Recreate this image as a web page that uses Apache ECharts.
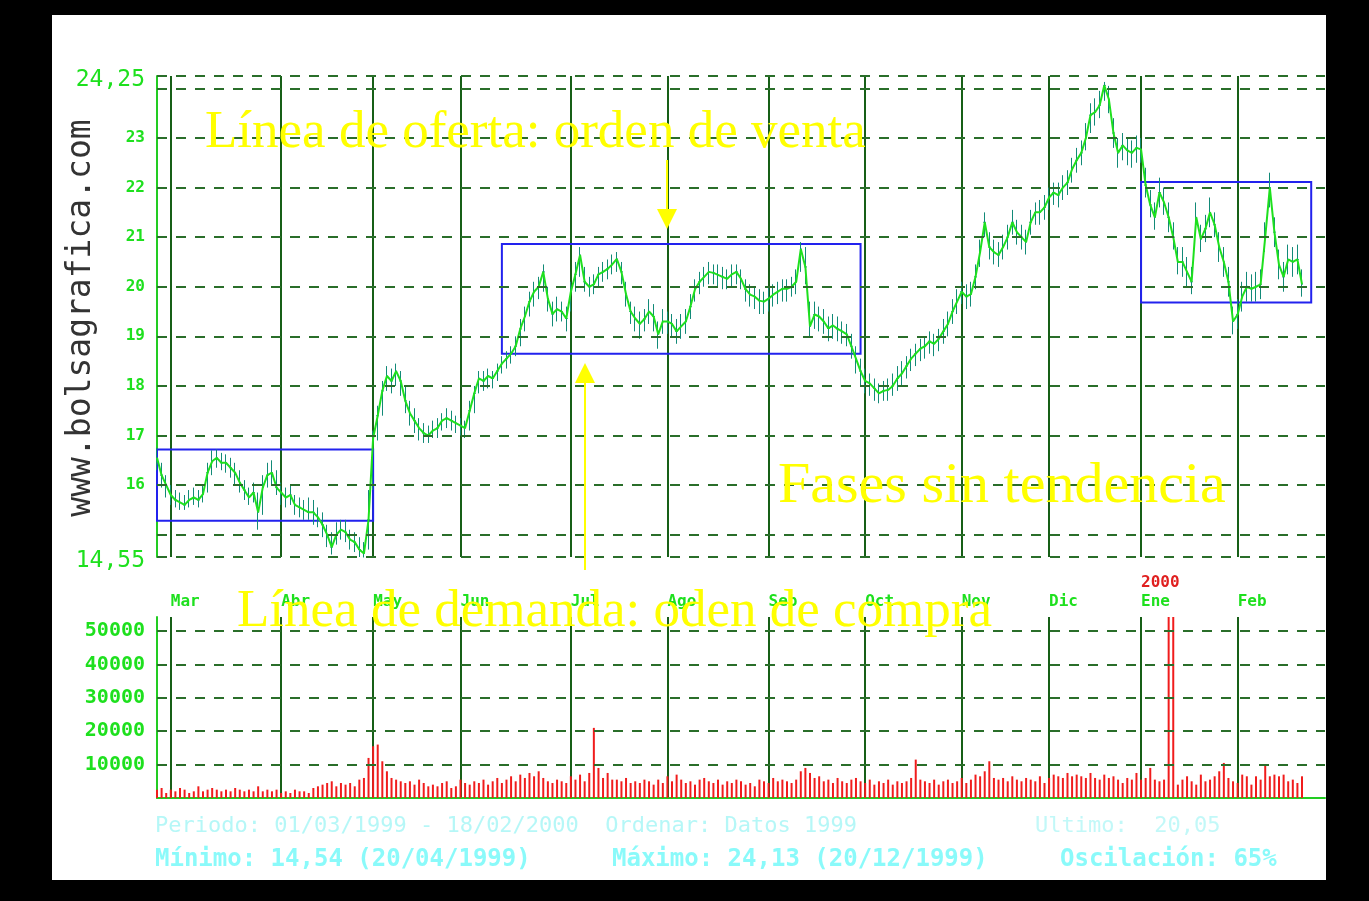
<!DOCTYPE html>
<html>
<head>
<meta charset="utf-8">
<script src="https://cdn.jsdelivr.net/npm/echarts@6/dist/echarts.min.js"></script>
<style>
html, body { margin: 0; padding: 0; background: #000; }
#chart { width: 1369px; height: 901px; }
</style>
</head>
<body>
<div id="chart"></div>
<script>
// cierres diarios (mar 1999 - feb 2000)
const cierre = [
  16.55,16.2,16.0,15.8,15.7,15.65,15.6,15.7,15.75,15.7,
  15.82,16.25,16.48,16.55,16.45,16.45,16.35,16.25,16.05,15.9,
  15.75,15.85,15.45,15.95,16.2,16.25,15.95,15.85,15.75,15.8,
  15.6,15.55,15.5,15.45,15.45,15.35,15.2,15.0,14.75,15.0,
  15.1,15.05,14.9,14.85,14.7,14.62,15.3,16.95,17.4,17.9,
  18.2,18.1,18.3,18.1,17.7,17.45,17.3,17.15,17.05,17.0,
  17.1,17.15,17.3,17.35,17.3,17.25,17.2,17.15,17.5,17.85,
  18.15,18.1,18.2,18.15,18.3,18.45,18.55,18.65,18.8,19.15,
  19.4,19.7,19.9,20.0,20.3,19.76,19.45,19.55,19.5,19.36,
  19.9,20.25,20.64,20.1,20.0,20.05,20.25,20.3,20.36,20.45,
  20.56,20.3,19.85,19.5,19.36,19.25,19.35,19.5,19.4,19.04,
  19.3,19.3,19.25,19.1,19.2,19.3,19.6,19.95,20.1,20.2,
  20.3,20.28,20.24,20.2,20.16,20.25,20.3,20.16,19.95,19.84,
  19.8,19.72,19.7,19.76,19.84,19.9,19.96,19.96,20.0,20.1,
  20.76,20.4,19.2,19.44,19.4,19.3,19.16,19.22,19.15,19.1,
  19.04,18.8,18.55,18.3,18.1,18.05,17.95,17.85,17.9,17.92,
  18.0,18.15,18.25,18.4,18.55,18.65,18.75,18.8,18.9,18.85,
  18.95,19.1,19.25,19.5,19.7,19.9,19.8,19.85,20.2,20.7,
  21.3,20.8,20.7,20.64,20.8,21.0,21.3,21.1,21.0,20.9,
  21.3,21.5,21.5,21.6,21.8,21.9,21.85,22.0,22.1,22.37,
  22.55,22.7,23.0,23.46,23.52,23.66,24.06,23.78,23.1,22.7,
  22.85,22.75,22.7,22.8,22.77,22.05,21.65,21.4,21.9,21.7,
  21.4,21.0,20.5,20.5,20.3,20.1,21.4,20.96,21.17,21.5,
  21.25,20.8,20.5,20.1,19.3,19.44,19.8,20.0,19.96,20.0,
  20.05,21.0,22.0,21.1,20.44,20.2,20.55,20.5,20.55,20.05
];
const maximo = [
  16.75,16.45,16.2,16.0,15.9,15.85,15.8,15.9,15.95,15.9,
  16.0,16.45,16.7,16.72,16.65,16.62,16.55,16.45,16.3,16.1,
  15.95,16.05,15.85,16.2,16.45,16.5,16.3,16.05,15.95,16.0,
  15.8,15.75,15.7,15.75,15.7,15.55,15.45,15.2,15.05,15.25,
  15.3,15.3,15.1,15.05,14.95,14.85,15.9,17.1,17.6,18.1,
  18.4,18.35,18.45,18.3,18.0,17.7,17.55,17.35,17.25,17.2,
  17.3,17.35,17.45,17.55,17.5,17.4,17.35,17.3,17.7,18.0,
  18.3,18.3,18.35,18.3,18.45,18.6,18.7,18.8,19.0,19.35,
  19.6,19.9,20.1,20.2,20.45,20.0,19.7,19.8,19.7,19.6,
  20.1,20.5,20.8,20.4,20.2,20.25,20.4,20.5,20.55,20.65,
  20.7,20.5,20.1,19.7,19.6,19.5,19.55,19.75,19.65,19.3,
  19.55,19.5,19.45,19.35,19.45,19.55,19.85,20.15,20.3,20.4,
  20.5,20.45,20.45,20.4,20.35,20.45,20.45,20.35,20.15,20.05,
  20.0,19.95,19.9,20.0,20.05,20.1,20.15,20.15,20.2,20.35,
  20.9,20.8,19.7,19.7,19.6,19.55,19.4,19.45,19.4,19.3,
  19.25,19.05,18.8,18.55,18.35,18.25,18.15,18.05,18.1,18.15,
  18.25,18.4,18.5,18.6,18.75,18.85,18.95,19.0,19.1,19.05,
  19.15,19.35,19.5,19.75,19.95,20.1,20.05,20.1,20.45,20.95,
  21.5,21.1,20.95,20.9,21.05,21.25,21.55,21.35,21.25,21.15,
  21.55,21.7,21.75,21.85,22.0,22.1,22.1,22.25,22.35,22.6,
  22.8,22.95,23.3,23.7,23.8,23.95,24.13,24.05,23.4,23.0,
  23.1,23.0,22.95,23.05,23.0,22.4,21.95,21.7,22.2,22.0,
  21.7,21.3,20.8,20.8,20.6,20.4,21.7,21.25,21.45,21.8,
  21.5,21.1,20.8,20.4,19.6,19.75,20.1,20.3,20.25,20.3,
  20.35,21.3,22.3,21.4,20.75,20.5,20.85,20.8,20.85,20.35
];
const minimo = [
  16.3,15.95,15.75,15.6,15.55,15.5,15.5,15.55,15.6,15.55,
  15.65,15.85,16.2,16.35,16.3,16.25,16.15,16.0,15.85,15.7,
  15.6,15.65,15.1,15.4,15.95,16.0,15.8,15.6,15.55,15.6,
  15.4,15.35,15.3,15.3,15.2,15.15,14.95,14.75,14.6,14.8,
  14.9,14.85,14.7,14.65,14.55,14.54,14.7,15.9,16.9,17.4,
  17.9,17.85,18.0,17.8,17.45,17.2,17.05,16.9,16.85,16.85,
  16.95,16.95,17.1,17.15,17.1,17.05,17.0,16.95,17.1,17.45,
  17.85,17.9,17.95,17.95,18.1,18.25,18.35,18.45,18.6,18.8,
  19.1,19.4,19.6,19.75,19.9,19.5,19.2,19.3,19.3,19.1,
  19.5,19.9,20.2,19.9,19.8,19.85,20.0,20.1,20.15,20.25,
  20.3,20.05,19.6,19.25,19.1,18.95,19.1,19.25,19.1,18.75,
  19.05,19.05,19.0,18.85,18.95,19.05,19.35,19.7,19.85,20.0,
  20.05,20.05,20.0,19.95,19.95,20.0,20.05,19.95,19.7,19.6,
  19.55,19.45,19.45,19.5,19.6,19.65,19.7,19.7,19.8,19.85,
  20.3,20.05,19.0,19.15,19.1,19.05,18.9,18.95,18.9,18.85,
  18.8,18.55,18.25,18.0,17.85,17.8,17.7,17.65,17.7,17.7,
  17.8,17.9,18.0,18.15,18.3,18.4,18.5,18.55,18.65,18.6,
  18.7,18.85,19.0,19.25,19.45,19.65,19.55,19.6,19.95,20.4,
  21.0,20.55,20.45,20.4,20.55,20.75,21.05,20.85,20.75,20.65,
  21.05,21.25,21.25,21.35,21.55,21.65,21.6,21.75,21.85,22.1,
  22.3,22.45,22.75,23.1,23.25,23.4,23.75,23.5,22.8,22.4,
  22.55,22.45,22.4,22.5,22.5,21.8,21.4,21.15,21.6,21.45,
  21.1,20.75,20.25,20.2,20.0,19.85,21.1,20.7,20.9,21.2,
  21.0,20.5,20.2,19.8,19.04,19.15,19.5,19.7,19.7,19.7,
  19.75,20.7,21.6,20.8,20.15,19.9,20.25,20.2,20.25,19.8
];
const volumen = [
  2500,3000,1500,2500,2000,3000,2500,1500,2000,3500,
  2000,2500,3000,2500,2000,2500,2000,3000,2500,2000,
  2500,2000,3500,2000,2500,2000,2500,1500,2000,1500,
  2500,2000,2000,1500,3000,3500,4000,4500,5000,3500,
  4500,4000,4500,3500,5500,6000,12000,15500,16000,11000,
  8000,6000,5500,5000,4500,5000,4000,5500,4500,3500,
  4000,3500,4500,5000,3000,3500,5500,4500,4000,5000,
  4500,5500,4000,5000,6000,4500,5500,6500,5000,7000,
  6000,7500,6500,8000,6000,5000,4500,5500,5000,4500,
  6500,5500,7000,5000,7500,21000,9000,6000,7500,5500,
  5500,5000,6000,4500,5000,4500,5500,5000,4000,5500,
  4500,6500,5000,7000,5500,4500,5000,4000,5500,6000,
  5000,4500,5500,4000,5000,4500,5500,5000,4000,4500,
  3500,5500,5000,4500,6000,5000,5500,5000,4500,5500,
  8000,9000,7500,6000,6500,5000,5500,4500,6000,5000,
  4500,5500,6000,5000,4500,5500,4000,5000,4500,5500,
  4000,5000,4500,5000,6000,11500,5500,5000,4500,5500,
  4000,5000,5500,4500,5000,6000,4500,5500,7000,6500,
  8000,11000,6000,5500,6000,5000,6500,5500,5000,6000,
  5500,5000,6500,4500,6000,7000,6500,6000,7500,6500,
  7000,6500,6000,7500,6000,5500,7000,6000,6500,5500,
  4500,6000,5500,7500,5500,6000,9000,5500,5000,5500,
  62000,62000,4000,5500,6500,5000,4000,7000,5000,5500,
  6500,8000,10500,6000,5000,4500,7000,6500,4000,6500,
  5500,10000,6500,7000,6500,7000,5000,5500,4500,6500
];
const meses = ['Mar','Abr','May','Jun','Jul','Ago','Sep','Oct','Nov','Dic','Ene','Feb'];
const inicioMes = [3,27,47,66,90,111,133,154,175,194,214,235];
const anioMes = ['','','','','','','','','','','2000',''];
const nivelesPrecio = [14.55,15,16,17,18,19,20,21,22,23,24,24.25];
const etiquetasPrecio = [14.55,16,17,18,19,20,21,22,23,24.25];
const nivelesVolumen = [10000,20000,30000,40000,50000];
// fases sin tendencia: [dia inicio, dia fin, precio alto, precio bajo]
const fases = [[0,47,16.72,15.28],[75,153,20.86,18.65],[214,251,22.11,19.68]];
const totalDias = 255;

const dias = Array.from({ length: totalDias }, (_, i) => String(i));
const velas = cierre.map((c, i) => [c, c, minimo[i], maximo[i]]);

const verde = '#1ee01e';
const mono = '"DejaVu Sans Mono", monospace';
const rejilla = { type: [10, 9], color: '#2a6e2a', width: 2 };
const lineaMes = { color: '#175f17', width: 2 };
const esMes = (i) => inicioMes.indexOf(i) >= 0;

const chart = echarts.init(document.getElementById('chart'));
chart.setOption({
  animation: false,
  backgroundColor: '#fff',
  grid: [
    { left: 157, right: 44, top: 76, height: 481 },
    { left: 157, right: 44, top: 617, height: 181 }
  ],
  xAxis: [
    {
      type: 'category', gridIndex: 0, data: dias, boundaryGap: false,
      axisLine: { show: false }, axisTick: { show: false },
      axisLabel: {
        interval: (i) => esMes(i), align: 'left', margin: 16,
        formatter: (v, i) => {
          const k = inicioMes.indexOf(i);
          return '{r|' + (anioMes[k] || ' ') + '}\n{g|' + meses[k] + '}';
        },
        rich: {
          r: { color: '#e02020', fontFamily: mono, fontSize: 16, fontWeight: 'bold', lineHeight: 19 },
          g: { color: verde, fontFamily: mono, fontSize: 16, fontWeight: 'bold', lineHeight: 19 }
        }
      },
      splitLine: { show: true, interval: (i) => esMes(i), lineStyle: lineaMes }
    },
    {
      type: 'category', gridIndex: 1, data: dias, boundaryGap: false,
      axisLine: { show: true, lineStyle: { color: '#22cc22', width: 2 } },
      axisTick: { show: false }, axisLabel: { show: false },
      splitLine: { show: true, interval: (i) => esMes(i), lineStyle: lineaMes }
    }
  ],
  yAxis: [
    {
      type: 'value', gridIndex: 0, min: 14.55, max: 24.25,
      axisLine: { show: true, lineStyle: { color: '#22cc22', width: 2 } },
      axisTick: { show: false }, splitLine: { show: false },
      axisLabel: {
        customValues: etiquetasPrecio, margin: 12,
        formatter: (v) => {
          const t = String(v).replace('.', ',');
          return (v === 14.55 || v === 24.25) ? '{b|' + t + '}' : '{s|' + t + '}';
        },
        rich: {
          b: { color: verde, fontFamily: mono, fontSize: 23, padding: [8, 0, 0, 0] },
          s: { color: verde, fontFamily: mono, fontSize: 16, fontWeight: 'bold' }
        }
      }
    },
    {
      type: 'value', gridIndex: 1, min: 0, max: 54200, interval: 10000,
      axisLine: { show: true, lineStyle: { color: '#22cc22', width: 2 } },
      axisTick: { show: false }, splitLine: { show: false },
      axisLabel: {
        showMinLabel: false, showMaxLabel: false, margin: 12,
        formatter: (v) => String(v),
        color: verde, fontFamily: mono, fontSize: 20, fontWeight: 'bold'
      }
    }
  ],
  series: [
    {
      type: 'candlestick', xAxisIndex: 0, yAxisIndex: 0, data: velas,
      barMaxWidth: 2, silent: true,
      itemStyle: { color: '#128a78', color0: '#128a78', borderColor: '#128a78', borderColor0: '#128a78', borderWidth: 1 },
      markLine: {
        silent: true, symbol: 'none', label: { show: false },
        lineStyle: rejilla,
        data: nivelesPrecio.map((v) => ({ yAxis: v }))
      }
    },
    {
      type: 'line', xAxisIndex: 0, yAxisIndex: 0, data: cierre,
      symbol: 'none', silent: true, z: 3,
      lineStyle: { color: verde, width: 2 },
      markArea: {
        silent: true, label: { show: false },
        itemStyle: { color: 'rgba(0,0,0,0)', borderColor: '#2222ee', borderWidth: 2 },
        data: fases.map((f) => [{ coord: [f[0], f[2]] }, { coord: [f[1], f[3]] }])
      }
    },
    {
      type: 'bar', xAxisIndex: 1, yAxisIndex: 1, data: volumen,
      barWidth: 2, silent: true,
      itemStyle: { color: '#f01c1c' },
      markLine: {
        silent: true, symbol: 'none', label: { show: false },
        lineStyle: rejilla,
        data: nivelesVolumen.map((v) => ({ yAxis: v }))
      }
    }
  ],
  graphic: {
    elements: [
      // marco negro
      { type: 'rect', z: 200, shape: { x: 0, y: 0, width: 1369, height: 15 }, style: { fill: '#000' } },
      { type: 'rect', z: 200, shape: { x: 0, y: 0, width: 52, height: 901 }, style: { fill: '#000' } },
      { type: 'rect', z: 200, shape: { x: 1326, y: 0, width: 43, height: 901 }, style: { fill: '#000' } },
      { type: 'rect', z: 200, shape: { x: 0, y: 880, width: 1369, height: 21 }, style: { fill: '#000' } },
      // marca de agua vertical
      { type: 'text', z: 100, x: 81, y: 318, rotation: Math.PI / 2,
        style: { text: 'www.bolsagrafica.com', font: '33px ' + mono, fill: '#333', textAlign: 'center', textVerticalAlign: 'middle' } },
      // anotaciones
      { type: 'text', z: 100, x: 205, y: 133,
        style: { text: 'Línea de oferta: orden de venta', font: '53px "Liberation Serif", serif', fill: '#ffff00', textVerticalAlign: 'middle' } },
      { type: 'text', z: 100, x: 778, y: 487,
        style: { text: 'Fases sin tendencia', font: '58px "Liberation Serif", serif', fill: '#ffff00', textVerticalAlign: 'middle' } },
      { type: 'text', z: 100, x: 237, y: 612,
        style: { text: 'Línea de demanda: oden de compra', font: '53px "Liberation Serif", serif', fill: '#ffff00', textVerticalAlign: 'middle' } },
      { type: 'line', z: 100, shape: { x1: 667, y1: 160, x2: 667, y2: 212 }, style: { stroke: '#ffff00', lineWidth: 2 } },
      { type: 'polygon', z: 100, shape: { points: [[657, 209], [677, 209], [667, 229]] }, style: { fill: '#ffff00' } },
      { type: 'line', z: 100, shape: { x1: 585, y1: 570, x2: 585, y2: 380 }, style: { stroke: '#ffff00', lineWidth: 2 } },
      { type: 'polygon', z: 100, shape: { points: [[575, 383], [595, 383], [585, 363]] }, style: { fill: '#ffff00' } },
      // pie
      { type: 'text', z: 100, x: 155, y: 826,
        style: { text: 'Periodo: 01/03/1999 - 18/02/2000  Ordenar: Datos 1999', font: '22px ' + mono, fill: 'rgba(120,240,240,0.55)', textVerticalAlign: 'middle' } },
      { type: 'text', z: 100, x: 1035, y: 826,
        style: { text: 'Ultimo:  20,05', font: '22px ' + mono, fill: 'rgba(120,240,240,0.45)', textVerticalAlign: 'middle' } },
      { type: 'text', z: 100, x: 155, y: 860,
        style: { text: 'Mínimo: 14,54 (20/04/1999)', font: 'bold 24px ' + mono, fill: '#8afafa', textVerticalAlign: 'middle' } },
      { type: 'text', z: 100, x: 612, y: 860,
        style: { text: 'Máximo: 24,13 (20/12/1999)', font: 'bold 24px ' + mono, fill: '#8afafa', textVerticalAlign: 'middle' } },
      { type: 'text', z: 100, x: 1060, y: 860,
        style: { text: 'Oscilación: 65%', font: 'bold 24px ' + mono, fill: '#8afafa', textVerticalAlign: 'middle' } }
    ]
  }
});
</script>
</body>
</html>
